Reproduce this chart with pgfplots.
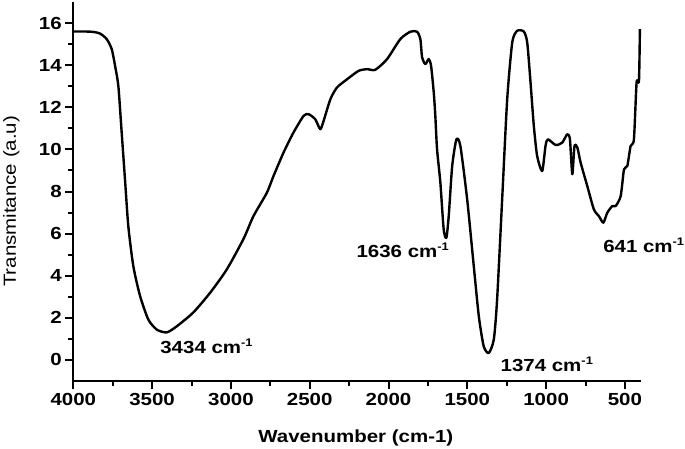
\documentclass[border=0pt]{standalone}
\usepackage{pgfplots}
\pgfplotsset{compat=1.18}
\usepackage{fontspec}
\setmainfont{Liberation Sans}[FakeStretch=1.17]
\newcommand{\sups}[1]{\raisebox{0.75ex}{\fontsize{11}{11}\selectfont #1}}
\begin{document}
\begin{tikzpicture}
\path[use as bounding box] (-73.3pt,-67pt) rectangle (611.7pt,381pt);
\begin{axis}[
  at={(0pt,0pt)}, anchor=south west,
  scale only axis, width=567.4pt, height=379pt,
  x dir=reverse,
  xmin=400, xmax=4000, ymin=-1, ymax=17,
  axis lines*=left,
  x axis line style={-}, y axis line style={-},
  axis line style={line width=2.2pt},
  xtick={500,1000,...,4000}, minor x tick num=1,
  ytick={0,2,...,16}, minor y tick num=1,
  tick align=outside,
  major tick length=8pt, minor tick length=5pt,
  every tick/.style={line width=2pt, black},
  /pgf/number format/assume math mode=true,
  /pgf/number format/1000 sep={},
  tick label style={font=\fontsize{17.5}{20}\selectfont\bfseries},
  xticklabel style={yshift=-1pt},
  xlabel={Wavenumber (cm-1)},
  ylabel={Transmitance (a.u)},
  xlabel style={font=\fontsize{17.5}{20}\selectfont\bfseries, at={(axis description cs:0.498,-0.150)}, anchor=center},
  ylabel style={font=\fontsize{17.5}{20}\selectfont, at={(axis description cs:-0.109,0.474)}, anchor=center, rotate=0},
  clip=false,
]
\addplot[black, line width=2.4pt, line join=round, smooth, tension=0.4] coordinates {
(4000,15.60) (3930,15.60) (3873,15.58) (3830,15.50) (3788,15.24) (3756,14.76)
(3735,13.97) (3714,13.0) (3693,10.8) (3672,8.58) (3651,6.36) (3619,4.45)
(3576,3.03) (3524,1.92) (3470,1.44) (3407,1.31) (3343,1.60) (3238,2.26)
(3132,3.19) (3026,4.30) (2920,5.75) (2857,6.83) (2772,7.94) (2730,8.73)
(2666,9.85) (2603,10.80) (2539,11.59) (2507,11.67) (2465,11.43) (2433,10.96)
(2412,11.35) (2369,12.38) (2327,12.94) (2263,13.33) (2190,13.73) (2136,13.81)
(2084,13.78) (2009,14.29) (1925,15.24) (1861,15.59) (1819,15.59) (1798,15.24)
(1787,14.37) (1766,14.05) (1745,14.29) (1730,13.97) (1713,12.70) (1703,11.59)
(1692,10.0) (1671,8.42) (1650,6.2) (1633,5.8) (1618,6.83) (1596,9.21)
(1569,10.48) (1544,10.16) (1501,7.63) (1459,4.45) (1427,2.07) (1396,0.65)
(1364,0.33) (1332,0.97) (1311,2.87) (1279,7.63) (1247,12.38) (1215,15.08)
(1184,15.63) (1142,15.60) (1120,15.08) (1099,13.18) (1078,11.11) (1057,9.69)
(1025,8.97) (1004,10.16) (989,10.48) (940,10.21) (898,10.32) (866,10.72)
(849,10.48) (834,8.82) (820,10.16) (802,10.09) (781,9.37) (739,8.26)
(697,7.15) (665,6.83) (637,6.52) (612,6.99) (580,7.31) (559,7.31)
(527,7.78) (506,9.05) (485,9.21) (464,10.16) (443,10.48) (426,13.18)
(411,13.25) (405,15.71)
};
\node[anchor=base west, font=\fontsize{17.5}{20}\selectfont\bfseries] at (axis cs:3470,0.30) {3434 cm\sups{-1}};
\node[anchor=base west, font=\fontsize{17.5}{20}\selectfont\bfseries] at (axis cs:2225,4.85) {1636 cm\sups{-1}};
\node[anchor=base west, font=\fontsize{17.5}{20}\selectfont\bfseries] at (axis cs:1311,-0.54) {1374 cm\sups{-1}};
\node[anchor=base west, font=\fontsize{17.5}{20}\selectfont\bfseries] at (axis cs:660,5.12) {641 cm\sups{-1}};
\end{axis}
\end{tikzpicture}
\end{document}
